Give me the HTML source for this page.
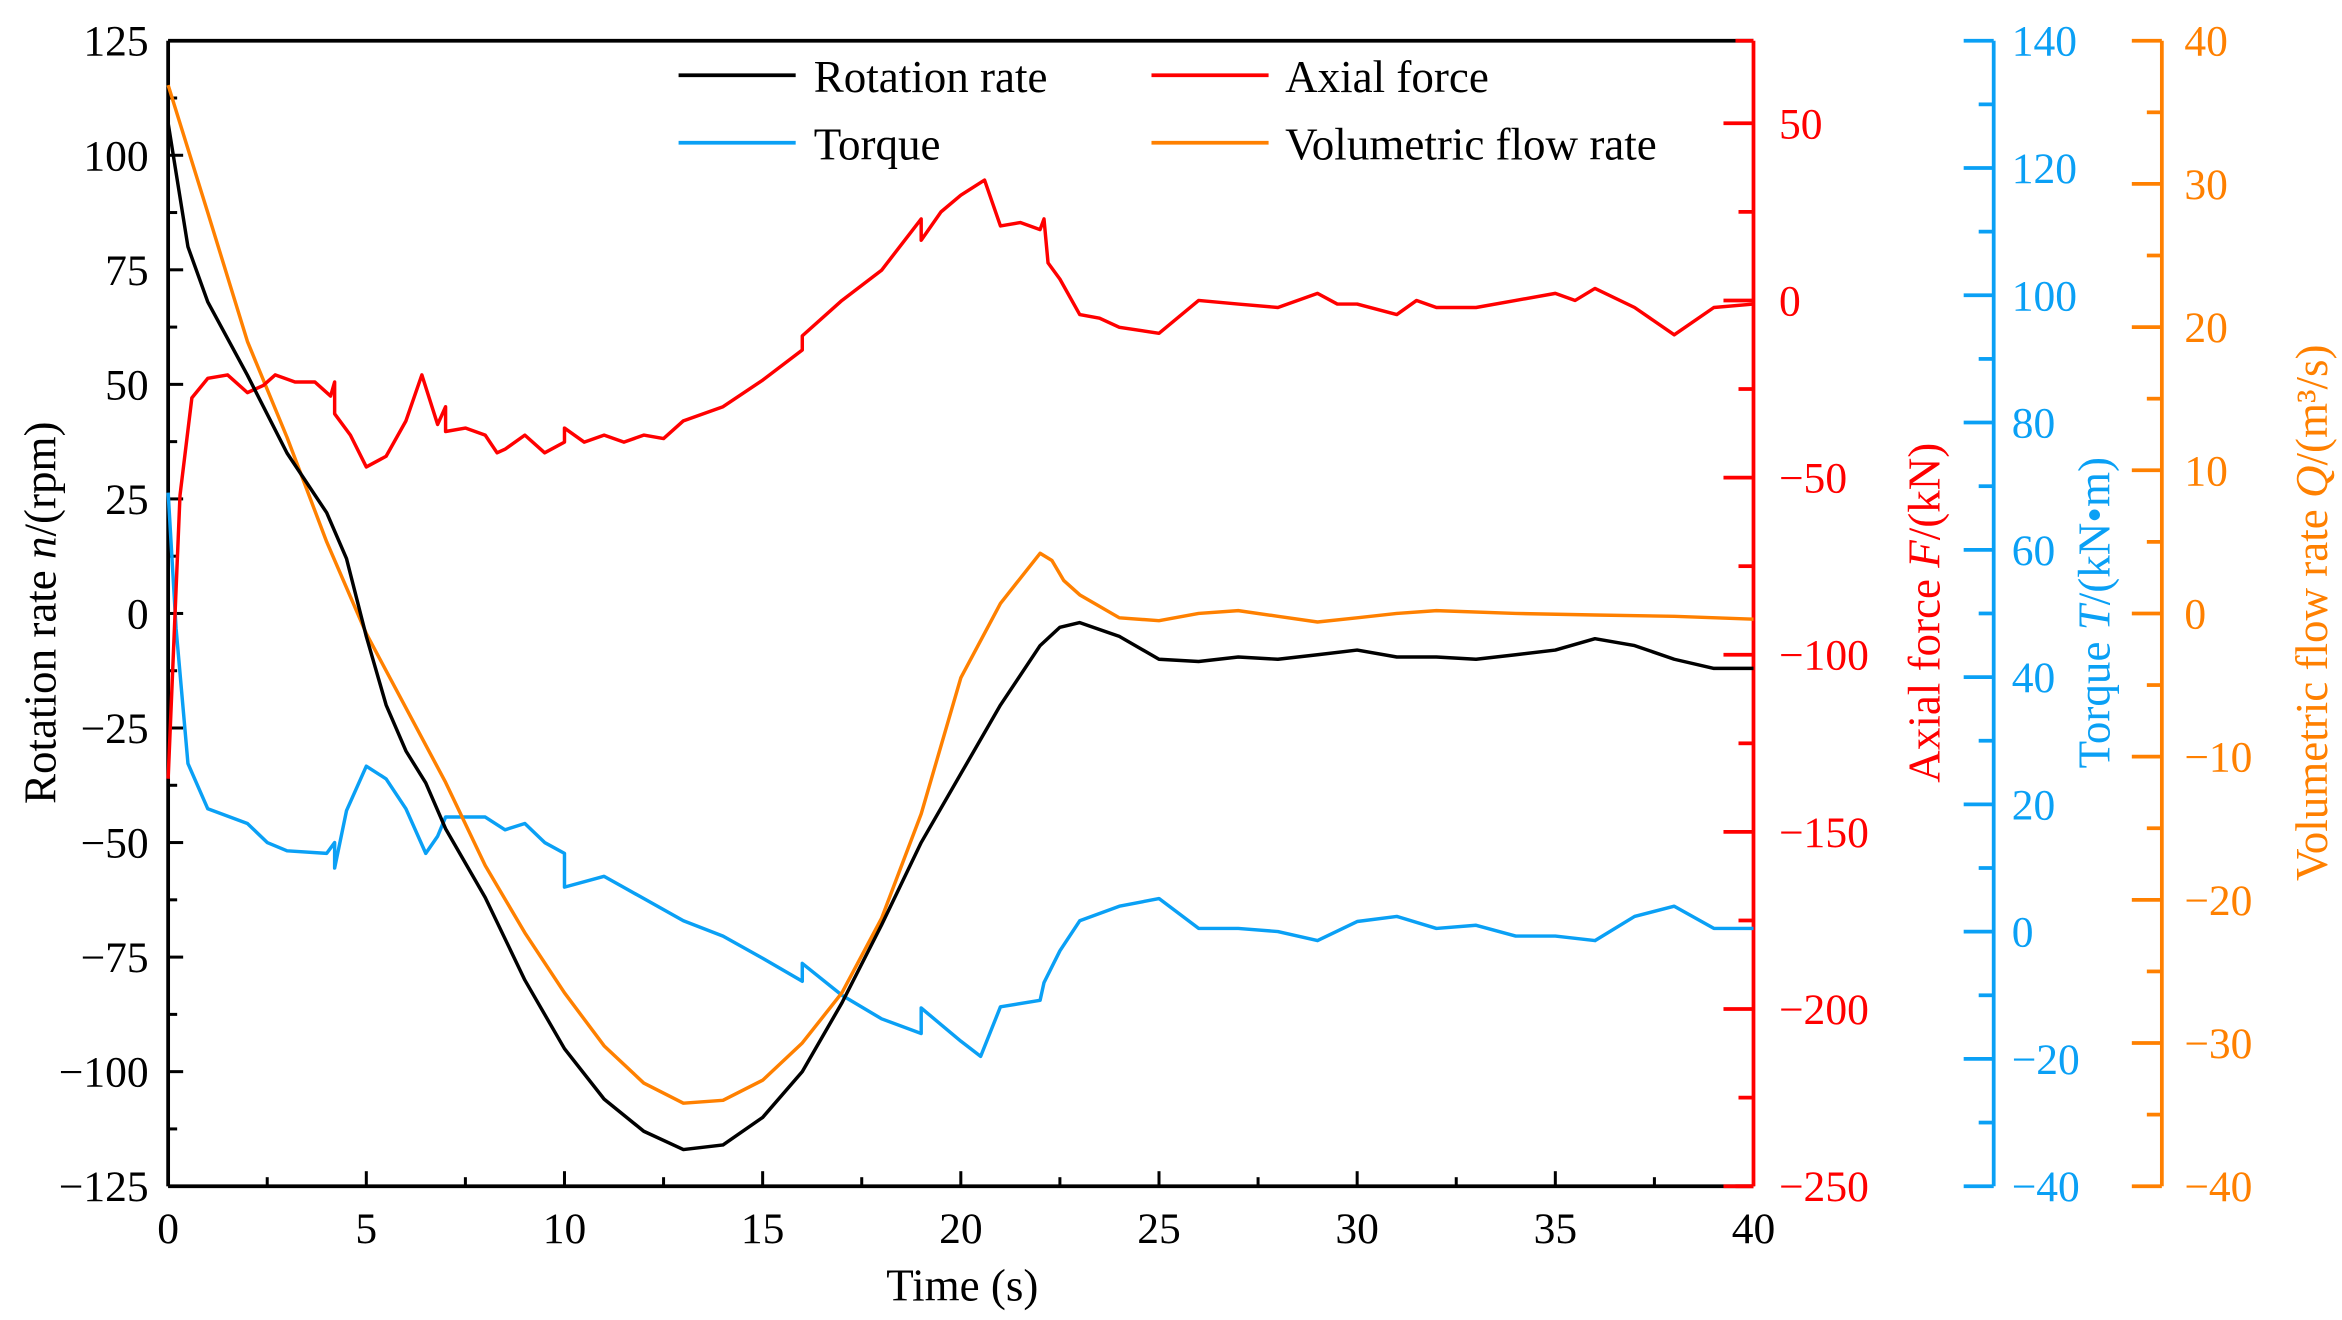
<!DOCTYPE html>
<html><head><meta charset="utf-8"><style>
html,body{margin:0;padding:0;background:#fff;}
svg{display:block;font-family:"Liberation Serif",serif;}
</style></head><body>
<svg id="chart" width="2342" height="1320" viewBox="0 0 1560 879" xmlns="http://www.w3.org/2000/svg">
<g id="axes"></g>
<g id="series"></g>
<g id="legend">
 <line x1="452" y1="50" x2="530" y2="50" stroke="#000" stroke-width="2.5"/>
 <text x="542" y="61" font-size="30">Rotation rate</text>
 <line x1="767" y1="50" x2="845" y2="50" stroke="#f00" stroke-width="2.5"/>
 <text x="856" y="61" font-size="30">Axial force</text>
 <line x1="452" y1="95" x2="530" y2="95" stroke="#0aa0f5" stroke-width="2.5"/>
 <text x="542" y="106" font-size="30">Torque</text>
 <line x1="767" y1="95" x2="845" y2="95" stroke="#ff8000" stroke-width="2.5"/>
 <text x="856" y="106" font-size="30">Volumetric flow rate</text>
</g>
<text x="641" y="866" font-size="30" text-anchor="middle">Time (s)</text>
<text transform="translate(37,408) rotate(-90)" font-size="30" text-anchor="middle">Rotation rate <tspan font-style="italic">n</tspan>/(rpm)</text>
<text transform="translate(1292,408) rotate(-90)" font-size="30" text-anchor="middle" fill="#f00">Axial force <tspan font-style="italic">F</tspan>/(kN)</text>
<text transform="translate(1405,408) rotate(-90)" font-size="30" text-anchor="middle" fill="#0aa0f5">Torque <tspan font-style="italic">T</tspan>/(kN•m)</text>
<text transform="translate(1550,408) rotate(-90)" font-size="30" text-anchor="middle" fill="#ff8000">Volumetric flow rate <tspan font-style="italic">Q</tspan>/(m³/s)</text>
</svg>
<script>
const rotT=[0,0.5,1,2,3,4,4.5,5,5.5,6,6.5,7,8,9,10,11,12,13,14,15,16,17,18,19,20,21,22,22.5,23,24,25,26,27,28,29,30,31,32,33,34,35,36,37,38,39,40];
const rotV=[107,80,68,52,35,22,12,-5,-20,-30,-37,-47,-62,-80,-95,-106,-113,-117,-116,-110,-100,-85,-68,-50,-35,-20,-7,-3,-2,-5,-10,-10.5,-9.5,-10,-9,-8,-9.5,-9.5,-10,-9,-8,-5.5,-7,-10,-12,-12];
const flowT=[0,1,2,3,4,5,6,7,8,9,10,11,12,13,14,15,16,17,18,19,20,21,22,22.3,22.6,23,24,25,26,27,28,29,30,31,32,34,36,38,40];
const flowV=[36.9,28,19,12.3,5,-1.4,-6.6,-11.8,-17.6,-22.3,-26.5,-30.2,-32.8,-34.2,-34,-32.6,-30,-26.5,-21.3,-14,-4.5,0.7,4.2,3.7,2.3,1.3,-0.3,-0.5,0,0.2,-0.2,-0.6,-0.3,0,0.2,0,-0.1,-0.2,-0.4];
const forceT=[0,0.3,0.6,1,1.5,2,2.4,2.7,3.2,3.7,4.1,4.2,4.2,4.6,5,5.5,6,6.4,6.8,7,7,7.5,8,8.3,8.5,9,9.5,10,10,10.5,11,11.5,12,12.5,13,14,15,16,16,17,18,19,19,19.5,20,20.6,21,21.5,22,22.1,22.2,22.5,23,23.5,24,25,26,27,28,29,29.5,30,31,31.5,32,33,34,35,35.5,36,37,38,39,40];
const forceV=[-135,-55,-27.5,-22,-21,-26,-24,-21,-23,-23,-27,-23,-32,-38,-47,-44,-34,-21,-35,-30,-37,-36,-38,-43,-42,-38,-43,-40,-36,-40,-38,-40,-38,-39,-34,-30,-22.5,-14,-10,0,8.5,23,17,25,29.7,34,21,22,20,23,10.6,6,-4,-5,-7.6,-9.3,0,-1,-2,2,-1,-1,-4,0,-2,-2,0,2,0,3.4,-2,-9.7,-2,-1];
const torqT=[0,0.2,0.5,1,2,2.5,3,4,4.2,4.2,4.5,5,5.5,6,6.5,6.8,7,8,8.5,9,9.5,10,10,11,12,13,14,15,16,16,17,18,19,19,20,20.5,21,22,22.1,22.5,23,24,25,26,27,28,29,30,31,32,33,34,35,36,37,38,39,40];
const torqV=[69,47.6,26.4,19.3,17,14,12.7,12.3,14,10,19,26,24,19.3,12.3,15,18,18,16,17,14,12.3,7,8.7,5.2,1.7,-0.7,-4.2,-7.8,-5,-10,-13.7,-16,-12,-17.2,-19.6,-11.8,-10.8,-8,-3,1.7,4,5.2,0.5,0.5,0,-1.4,1.6,2.4,0.5,1,-0.7,-0.7,-1.4,2.4,4,0.5,0.5];
const xTicks=[0,5,10,15,20,25,30,35,40];
const leftTicks=[-125,-100,-75,-50,-25,0,25,50,75,100,125];
const forceTicks=[-250,-200,-150,-100,-50,0,50];
const torqTicks=[-40,-20,0,20,40,60,80,100,120,140];
const flowTicks=[-40,-30,-20,-10,0,10,20,30,40];

const X0=112,X1=1168,YT=27,YB=790;
const sx=t=>X0+(t-0)/40*(X1-X0);
const syL=v=>YB-(v+125)/250*(YB-YT);
const syF=v=>200-v*2.36;
const syT=v=>YB-(v+40)/180*(YB-YT);
const syQ=v=>YB-(v+40)/80*(YB-YT);
const NS="http://www.w3.org/2000/svg";
const axes=document.getElementById('axes'),ser=document.getElementById('series');
function mk(tag,attrs,parent){const e=document.createElementNS(NS,tag);for(const k in attrs)e.setAttribute(k,attrs[k]);parent.appendChild(e);return e;}
const fmt=v=>v<0?'\u2212'+Math.abs(v):String(v);

let l=mk('line',{x1:X0,y1:YT,x2:X1,y2:YT,stroke:'#000','stroke-width':2.5},axes);


l=mk('line',{x1:X0,y1:YB,x2:X1,y2:YB,stroke:'#000','stroke-width':2.5},axes);


l=mk('line',{x1:X0,y1:YT,x2:X0,y2:YB,stroke:'#000','stroke-width':2.5},axes);


for(let t=0;t<=40;t+=2.5){const maj=t%5===0;mk('line',{x1:sx(t),y1:YB,x2:sx(t),y2:YB-(maj?10:6),stroke:'#000','stroke-width':2},axes);}
xTicks.forEach(t=>{const e=mk('text',{x:sx(t),y:YB+38,'font-size':29,'text-anchor':'middle'},axes);e.textContent=t;

});
for(let v=-125;v<=125;v+=12.5){const maj=Math.abs(v%25)<1e-9;mk('line',{x1:X0,y1:syL(v),x2:X0+(maj?10:6),y2:syL(v),stroke:'#000','stroke-width':2},axes);}
leftTicks.forEach(v=>{const e=mk('text',{x:X0-13,y:syL(v)+10,'font-size':29,'text-anchor':'end'},axes);e.textContent=fmt(v);

});
function rAxis(x,top,bot,col,step,minor,ticks,sy,name,labX){
 const a=mk('line',{x1:x,y1:top,x2:x,y2:bot,stroke:col,'stroke-width':2.5},axes);
 
 
 const lo=ticks[0],hi=ticks[ticks.length-1];
 for(let v=lo;v<=hi+1e-9;v+=minor){const maj=Math.abs(((v-lo)%step))<1e-9;mk('line',{x1:x,y1:sy(v),x2:x-(maj?20:10),y2:sy(v),stroke:col,'stroke-width':2.5},axes);}
 ticks.forEach(v=>{const e=mk('text',{x:labX,y:sy(v)+10,'font-size':29,fill:col},axes);e.textContent=fmt(v);
 
 });
}
mk('line',{x1:X1,y1:YB,x2:X1-12,y2:YB,stroke:'#f00','stroke-width':2.5},axes);
mk('line',{x1:X1,y1:YT,x2:X1-12,y2:YT,stroke:'#f00','stroke-width':2.5},axes);
rAxis(X1,YT,YB,'#f00',50,25,forceTicks,syF,'axial-force',1185);
rAxis(1328,YT,YB,'#0aa0f5',20,10,torqTicks,syT,'torque',1340);
rAxis(1440,YT,YB,'#ff8000',10,5,flowTicks,syQ,'flow',1455);
function line(T,V,sy,col,name){const p=T.map((t,i)=>sx(t).toFixed(1)+','+sy(V[i]).toFixed(1)).join(' ');
 const e=mk('polyline',{points:p,fill:'none',stroke:col,'stroke-width':2.3,'stroke-linejoin':'round'},ser);
 
 }
line(torqT,torqV,syT,'#0aa0f5','torque-line');
line(flowT,flowV,syQ,'#ff8000','flow-rate-line');
line(forceT,forceV,syF,'#f00','axial-force-line');
line(rotT,rotV,syL,'#000','rotation-rate-line');
</script>
</body></html>
